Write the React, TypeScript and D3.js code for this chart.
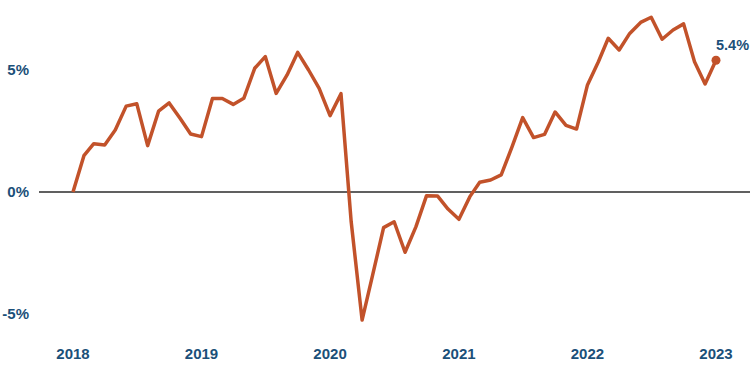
import { useEffect, useRef } from 'react'
import * as d3 from 'd3'

// monthly values, Jan 2018 .. Jan 2023 (percent)
const values2018 = [0, 1.49, 1.98, 1.93, 2.54, 3.52, 3.62, 1.9, 3.31, 3.65, 3.02, 2.38]
const values2019 = [2.27, 3.83, 3.83, 3.59, 3.84, 5.07, 5.55, 4.04, 4.8, 5.72, 5.0, 4.25]
const values2020 = [3.13, 4.03, -1.22, -5.25, -3.4, -1.46, -1.22, -2.47, -1.42, -0.15, -0.16, -0.7]
const values2021 = [-1.12, -0.19, 0.4, 0.49, 0.7, 1.86, 3.05, 2.23, 2.36, 3.28, 2.73, 2.58]
const values2022 = [4.39, 5.34, 6.3, 5.82, 6.5, 6.95, 7.16, 6.26, 6.64, 6.89, 5.34, 4.43]
const values2023 = [5.4]

const yearTicks = [2018, 2019, 2020, 2021, 2022, 2023]
const yTicks = [-5, 0, 5]

const allValues = [...values2018, ...values2019, ...values2020, ...values2021, ...values2022, ...values2023]

export default function App() {
  const svgRef = useRef<any>()
  const width = 750
  const height = 375

  useEffect(() => {
    const svg = d3.select(svgRef.current)
    svg.selectAll('*').remove()

    const data = allValues.map((v, i) => ({ date: new Date(2018, i, 1), value: v }))

    const x = d3.scaleTime().domain([new Date(2018, 0, 1), new Date(2023, 0, 1)]).range([73, 716])
    const y = d3.scaleLinear().domain([-5, 5]).range([314, 70])

    const labelColor = '#1b5079'
    const font = 'Liberation Sans, Arial, sans-serif'

    // zero line
    svg
      .append('line')
      .attr('x1', 39)
      .attr('x2', width)
      .attr('y1', y(0))
      .attr('y2', y(0))
      .attr('stroke', '#2b2b2b')
      .attr('stroke-width', 1.3)

    // y labels
    svg
      .append('g')
      .selectAll('text')
      .data(yTicks)
      .enter()
      .append('text')
      .attr('x', 29)
      .attr('y', (d) => y(d))
      .attr('dy', '0.36em')
      .attr('text-anchor', 'end')
      .attr('fill', labelColor)
      .attr('font-family', font)
      .attr('font-weight', 'bold')
      .attr('font-size', 15)
      .text((d) => `${d}%`)

    // x labels
    svg
      .append('g')
      .selectAll('text')
      .data(yearTicks)
      .enter()
      .append('text')
      .attr('x', (d) => x(new Date(d, 0, 1)))
      .attr('y', 354)
      .attr('dy', '0.36em')
      .attr('text-anchor', 'middle')
      .attr('fill', labelColor)
      .attr('font-family', font)
      .attr('font-weight', 'bold')
      .attr('font-size', 15)
      .text((d) => d)

    const line = d3
      .line<any>()
      .x((d) => x(d.date))
      .y((d) => y(d.value))

    svg
      .append('path')
      .datum(data)
      .attr('d', line)
      .attr('fill', 'none')
      .attr('stroke', '#c2522a')
      .attr('stroke-width', 3.5)
      .attr('stroke-linejoin', 'round')

    const last = data[data.length - 1]
    svg
      .append('circle')
      .attr('cx', x(last.date))
      .attr('cy', y(last.value))
      .attr('r', 4.5)
      .attr('fill', '#c2522a')

    svg
      .append('text')
      .attr('x', x(last.date))
      .attr('y', y(last.value) - 10)
      .attr('fill', labelColor)
      .attr('font-family', font)
      .attr('font-weight', 'bold')
      .attr('font-size', 14.5)
      .text(`${last.value}%`)
  }, [])

  return (
    <svg
      ref={svgRef}
      width={width}
      height={height}
      style={{ position: 'absolute', left: 0, top: 0, background: '#fff' }}
    ></svg>
  )
}
